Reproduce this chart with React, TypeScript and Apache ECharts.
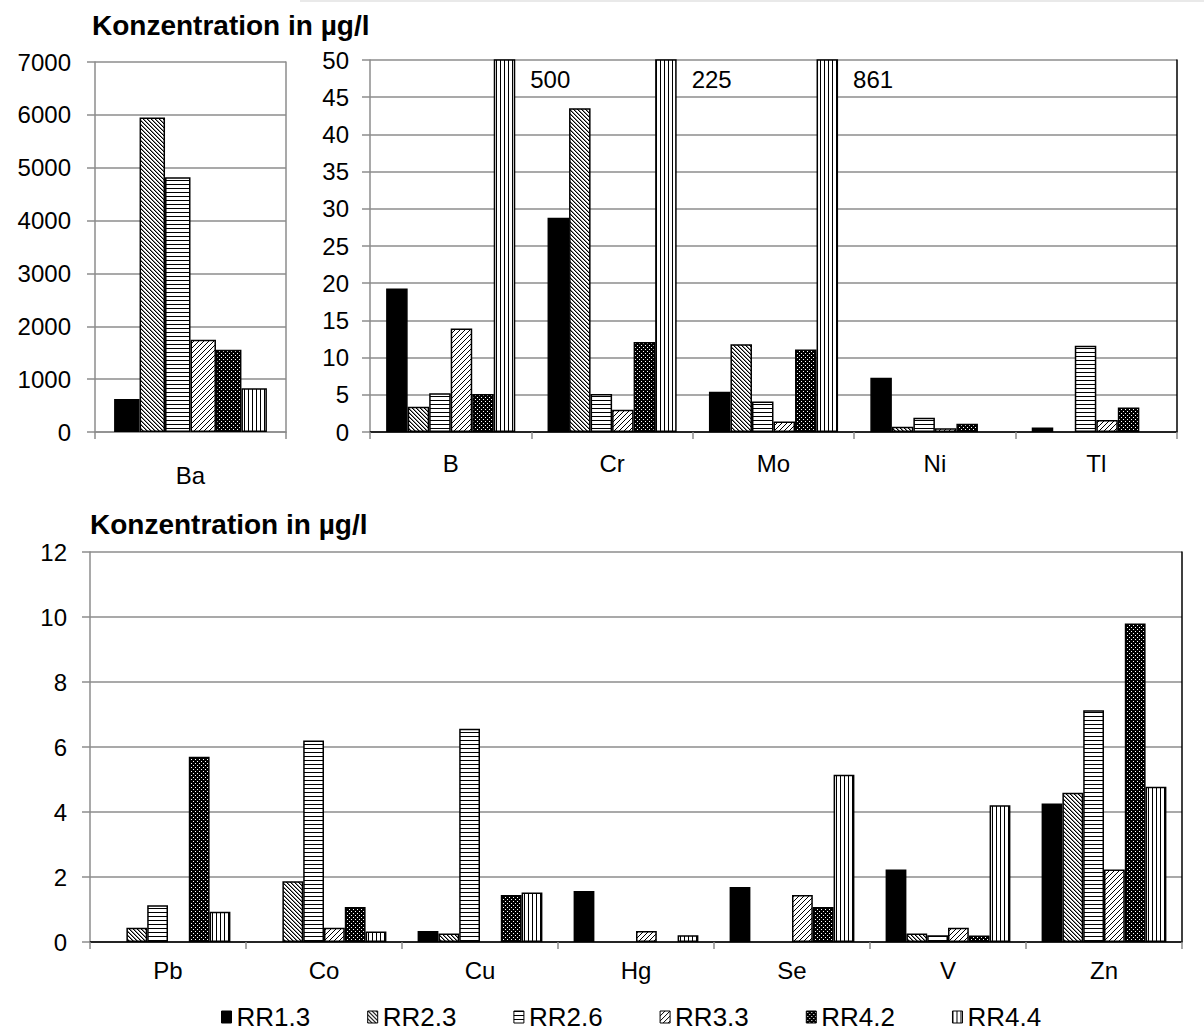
import React, { useEffect, useRef } from "react";
import * as echarts from "echarts";

// Sample names (legend order)
const seriesNames = ["RR1.3", "RR2.3", "RR2.6", "RR3.3", "RR4.2", "RR4.4"];

// Panel 1: barium, µg/l
const baCategories = ["Ba"];
const ba_RR13 = [624];
const ba_RR23 = [5950];
const ba_RR26 = [4820];
const ba_RR33 = [1745];
const ba_RR42 = [1555];
const ba_RR44 = [830];

// Panel 2: B, Cr, Mo, Ni, Tl, µg/l (axis capped at 50, larger values are labelled)
const midCategories = ["B", "Cr", "Mo", "Ni", "Tl"];
const mid_RR13 = [19.3, 28.8, 5.4, 7.3, 0.6];
const mid_RR23 = [3.4, 43.5, 11.8, 0.7, null];
const mid_RR26 = [5.2, 5.1, 4.1, 1.9, 11.6];
const mid_RR33 = [13.9, 3.0, 1.4, 0.5, 1.6];
const mid_RR42 = [5.1, 12.1, 11.1, 1.1, 3.3];
const mid_RR44 = [500, 225, 861, null, null];

// Panel 3: trace elements, µg/l
const lowCategories = ["Pb", "Co", "Cu", "Hg", "Se", "V", "Zn"];
const low_RR13 = [null, null, 0.34, 1.57, 1.69, 2.23, 4.26];
const low_RR23 = [0.44, 1.87, 0.26, null, null, 0.26, 4.59];
const low_RR26 = [1.13, 6.2, 6.56, null, null, 0.21, 7.13];
const low_RR33 = [null, 0.44, null, 0.34, 1.45, 0.44, 2.23];
const low_RR42 = [5.7, 1.08, 1.45, null, 1.08, 0.2, 9.8];
const low_RR44 = [0.93, 0.32, 1.52, 0.21, 5.15, 4.21, 4.78];

// Axis ranges
const baAxis = { min: 0, max: 7000, step: 1000 };
const midAxis = { min: 0, max: 50, step: 5 };
const lowAxis = { min: 0, max: 12, step: 2 };

const titleText = "Konzentration in µg/l";

const FONT = "'Liberation Sans', Arial, Helvetica, sans-serif";
const GRID_GRAY = "#8c8c8c";

type Tile = { image: HTMLCanvasElement; repeat: string; imageWidth: number; imageHeight: number };

function tile(size: number, bg: string, draw: (ctx: CanvasRenderingContext2D) => void): Tile {
  const c = document.createElement("canvas");
  c.width = size;
  c.height = size;
  const ctx = c.getContext("2d") as CanvasRenderingContext2D;
  ctx.fillStyle = bg;
  ctx.fillRect(0, 0, size, size);
  draw(ctx);
  return { image: c, repeat: "repeat", imageWidth: size, imageHeight: size };
}

function makeFills(): any[] {
  const solid = "#000";
  // dense "\" hatching
  const back = tile(4, "#fff", (ctx) => {
    for (let i = 0; i < 4; i++) {
      ctx.fillStyle = "#000";
      ctx.fillRect(i, i, 1, 1);
      ctx.fillStyle = "#888";
      ctx.fillRect((i + 1) % 4, i, 1, 1);
    }
  });
  // horizontal lines
  const horiz = tile(4, "#fff", (ctx) => {
    ctx.fillStyle = "#000";
    ctx.fillRect(0, 0, 4, 1);
  });
  // lighter "/" hatching
  const fwd = tile(5, "#fff", (ctx) => {
    for (let i = 0; i < 5; i++) {
      ctx.fillStyle = "#000";
      ctx.fillRect(4 - i, i, 1, 1);
    }
  });
  // black with white dots
  const dots = tile(4, "#000", (ctx) => {
    ctx.fillStyle = "#fff";
    ctx.fillRect(1, 1, 1, 1);
    ctx.fillRect(3, 3, 1, 1);
  });
  // vertical lines
  const vert = tile(4, "#fff", (ctx) => {
    ctx.fillStyle = "#000";
    ctx.fillRect(0, 0, 1, 4);
  });
  return [solid, back, horiz, fwd, dots, vert];
}

function toData(arr: (number | null)[]) {
  return arr.map((v) => (v == null ? "-" : v));
}

export default function App() {
  const ref = useRef<HTMLDivElement>(null);

  useEffect(() => {
    document.body.style.margin = "0";
    if (!ref.current) return;
    const chart = echarts.init(ref.current, null, { renderer: "svg" });
    const fills = makeFills();

    const baSets = [ba_RR13, ba_RR23, ba_RR26, ba_RR33, ba_RR42, ba_RR44];
    const midSets = [mid_RR13, mid_RR23, mid_RR26, mid_RR33, mid_RR42, mid_RR44];
    const lowSets = [low_RR13, low_RR23, low_RR26, low_RR33, low_RR42, low_RR44];

    const barBase = (i: number, axisIdx: number) => ({
      type: "bar",
      name: seriesNames[i],
      xAxisIndex: axisIdx,
      yAxisIndex: axisIdx,
      barGap: "0%",
      barCategoryGap: "20%",
      clip: true,
      itemStyle: { color: fills[i], borderColor: "#000", borderWidth: 1.5 },
      emphasis: { disabled: true },
    });

    const series: any[] = [];
    baSets.forEach((d, i) => series.push({ ...barBase(i, 0), data: toData(d) }));
    midSets.forEach((d, i) =>
      series.push({
        ...barBase(i, 1),
        data: d.map((v) =>
          v == null
            ? "-"
            : v > midAxis.max
            ? {
                value: v,
                label: {
                  show: true,
                  position: ["100%", 0],
                  offset: [15, 8],
                  formatter: "{c}",
                  fontSize: 24,
                  fontFamily: FONT,
                  color: "#000",
                },
              }
            : v
        ),
      })
    );
    lowSets.forEach((d, i) => series.push({ ...barBase(i, 2), data: toData(d) }));

    const catAxis = (gridIndex: number, data: string[], margin: number) => ({
      type: "category",
      gridIndex,
      data,
      axisLine: { show: true, lineStyle: { color: GRID_GRAY, width: 1.5 } },
      axisTick: { show: true, length: 7, interval: 0, lineStyle: { color: GRID_GRAY, width: 1.5 } },
      axisLabel: { margin, fontSize: 24, color: "#000", fontFamily: FONT },
      splitLine: { show: false },
    });
    const borderX = (gridIndex: number, data: string[], color: string) => ({
      type: "category",
      gridIndex,
      data,
      position: "top",
      axisLine: { show: true, lineStyle: { color, width: 1.5 } },
      axisTick: { show: false },
      axisLabel: { show: false },
      splitLine: { show: false },
    });
    const valAxis = (gridIndex: number, r: { min: number; max: number; step: number }, margin: number) => ({
      type: "value",
      gridIndex,
      min: r.min,
      max: r.max,
      interval: r.step,
      axisLine: { show: true, lineStyle: { color: GRID_GRAY, width: 1.5 } },
      axisTick: { show: true, length: 8, lineStyle: { color: GRID_GRAY, width: 1.5 } },
      axisLabel: {
        margin,
        fontSize: 24,
        color: "#000",
        fontFamily: FONT,
        formatter: (v: number) => String(v),
      },
      splitLine: { show: true, lineStyle: { color: GRID_GRAY, width: 1.5 } },
    });
    const borderY = (gridIndex: number, r: { min: number; max: number; step: number }, color: string) => ({
      type: "value",
      gridIndex,
      min: r.min,
      max: r.max,
      interval: r.step,
      position: "right",
      axisLine: { show: true, lineStyle: { color, width: 1.5 } },
      axisTick: { show: false },
      axisLabel: { show: false },
      splitLine: { show: false },
    });

    const titleStyle = { fontSize: 28, fontWeight: "bold", color: "#000", fontFamily: FONT };

    chart.setOption({
      animation: false,
      backgroundColor: "#fff",
      title: [
        { text: titleText, left: 92, top: 11, padding: 0, textStyle: titleStyle },
        { text: titleText, left: 90, top: 510, padding: 0, textStyle: titleStyle },
      ],
      grid: [
        { left: 95, top: 62, width: 191, height: 370, outerBoundsMode: "none" },
        { left: 370, top: 60, width: 807, height: 372, outerBoundsMode: "none" },
        { left: 90, top: 552, width: 1092, height: 390, outerBoundsMode: "none" },
      ],
      xAxis: [
        catAxis(0, baCategories, 31),
        catAxis(1, midCategories, 19),
        catAxis(2, lowCategories, 16),
        borderX(1, midCategories, "#000"),
        borderX(2, lowCategories, "#000"),
      ],
      yAxis: [
        valAxis(0, baAxis, 24),
        valAxis(1, midAxis, 21),
        valAxis(2, lowAxis, 23),
        borderY(0, baAxis, GRID_GRAY),
        borderY(1, midAxis, "#000"),
        borderY(2, lowAxis, "#000"),
      ],
      legend: {
        data: seriesNames,
        left: 221,
        top: 1004,
        icon: "rect",
        itemWidth: 10,
        itemHeight: 12,
        itemGap: 57,
        padding: 0,
        selectedMode: false,
        textStyle: { fontSize: 26, lineHeight: 26, color: "#000", fontFamily: FONT },
        itemStyle: { borderColor: "#000", borderWidth: 1 },
      },
      graphic: [
        {
          type: "line",
          shape: { x1: 300, y1: 1, x2: 1204, y2: 1 },
          style: { stroke: "#e2e2e2", lineWidth: 1.5 },
          silent: true,
        },
      ],
      series,
    });

    return () => chart.dispose();
  }, []);

  return <div ref={ref} style={{ width: 1204, height: 1032 }} />;
}
